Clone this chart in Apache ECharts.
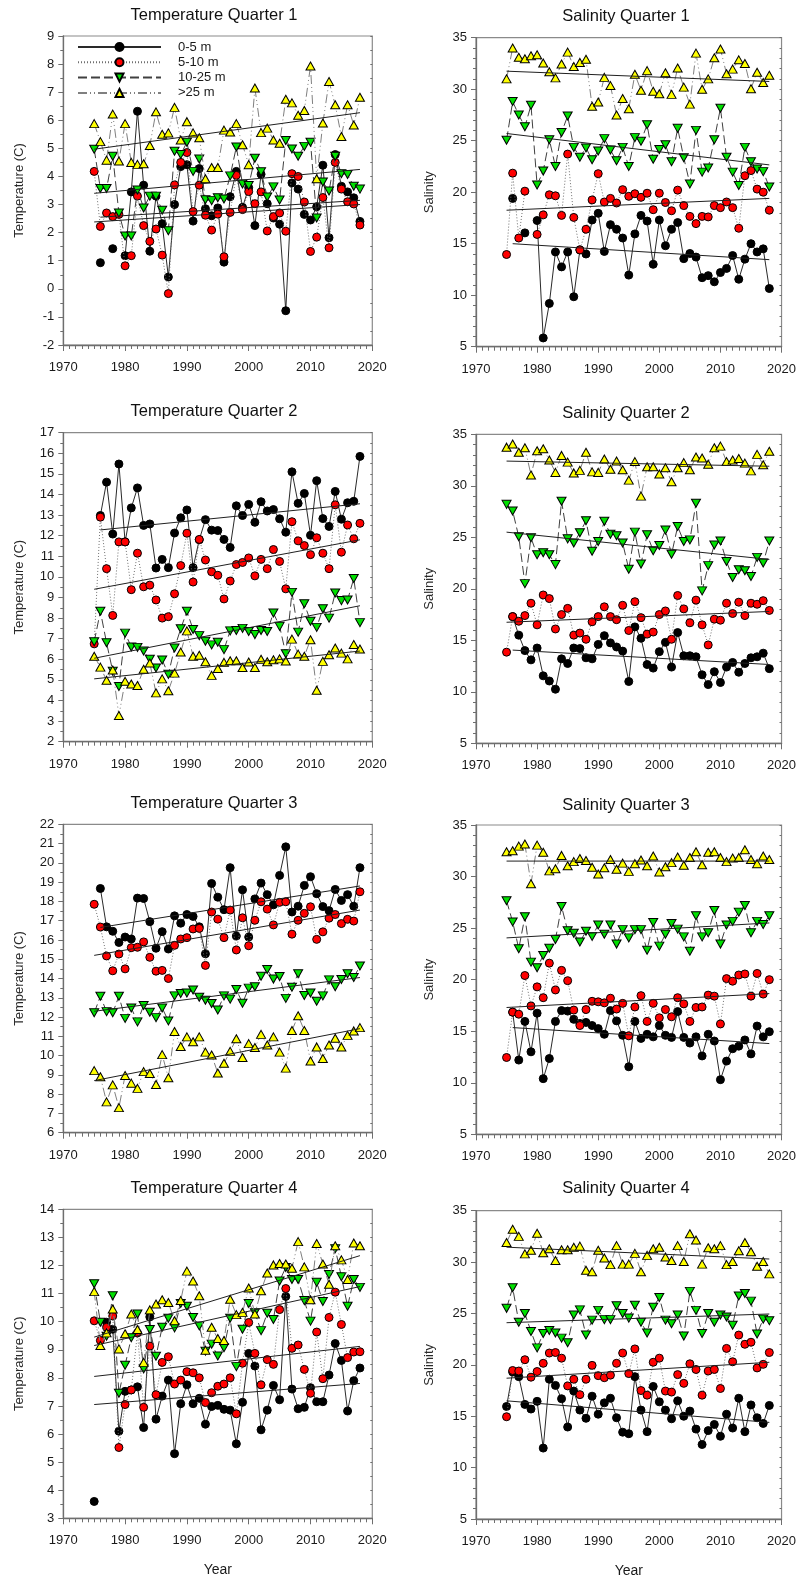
<!DOCTYPE html>
<html>
<head>
<meta charset="utf-8">
<script src="https://cdn.jsdelivr.net/npm/echarts@6/dist/echarts.min.js"></script>
<style>
html,body{margin:0;padding:0;background:#fff;}
#chart{width:799px;height:1579px;}
</style>
</head>
<body>
<div id="chart"></div>
<script>
// ---------------- DATA ----------------
const years = [1975,1976,1977,1978,1979,1980,1981,1982,1983,1984,1985,1986,1987,1988,1989,1990,1991,1992,1993,1994,1995,1996,1997,1998,1999,2000,2001,2002,2003,2004,2005,2006,2007,2008,2009,2010,2011,2012,2013,2014,2015,2016,2017,2018];
const seriesNames = ['0-5 m','5-10 m','10-25 m','>25 m'];
const xTicks = [1970,1980,1990,2000,2010,2020];

// Temperature Quarter 1
const T1_0_5  = [null,0.93,null,1.43,null,1.18,3.45,6.32,3.69,1.34,3.3,2.32,0.42,3.0,4.35,4.42,2.41,4.28,2.85,2.6,2.88,0.95,3.28,4.18,2.9,3.6,2.25,4.08,3.03,2.52,2.3,-0.78,3.77,3.55,2.65,2.45,2.92,4.4,1.82,4.78,3.65,3.45,3.24,2.4];
const T1_5_10 = [4.18,2.22,2.7,2.57,2.65,0.82,1.18,3.3,2.25,1.69,2.13,1.2,-0.17,3.7,4.5,4.85,2.75,3.69,2.62,2.09,2.66,1.14,2.72,4.04,2.82,3.46,3.03,3.45,2.06,2.57,2.7,2.05,4.1,4.0,3.09,1.33,1.84,3.25,1.46,4.5,3.55,3.1,3.02,2.27];
const T1_10_25= [4.97,3.57,3.57,4.72,2.7,1.88,1.88,3.52,2.88,3.3,3.3,2.8,2.07,4.9,4.78,5.22,4.18,4.62,3.17,3.14,3.24,3.2,4.02,5.05,3.73,3.68,4.65,4.17,3.27,3.63,3.16,5.28,4.98,4.72,5.07,5.22,2.52,3.8,3.48,4.72,4.1,4.07,3.65,3.55];
const T1_gt25 = [5.88,5.24,4.58,6.22,4.55,5.88,4.5,4.43,4.45,5.1,6.3,5.5,5.55,6.46,5.3,5.95,5.55,5.38,3.92,4.32,4.32,5.65,5.58,5.88,5.13,4.42,7.15,5.56,5.72,5.3,5.18,6.75,6.62,6.18,6.35,7.93,3.92,5.9,7.38,6.55,5.42,6.55,5.83,6.82];
const T1_trend = [[1976,2.55,2018,3.15],[1975,2.38,2018,3.0],[1975,3.4,2018,4.25],[1975,4.97,2018,6.27]];

// Salinity Quarter 1
const S1_0_5  = [null,19.4,null,16.05,null,17.25,5.85,9.2,14.2,12.75,14.2,9.85,14.4,14.0,17.3,17.95,14.25,16.85,16.4,15.55,11.95,15.95,17.75,17.2,13.0,17.3,14.8,16.4,17.05,13.55,14.05,13.7,11.7,11.9,11.3,12.2,12.6,13.85,11.55,13.5,15.0,14.2,14.5,10.65];
const S1_5_10 = [13.95,21.85,15.55,20.1,null,15.9,17.8,19.75,19.65,17.75,23.7,17.55,14.4,16.4,19.25,21.8,19.05,19.4,18.95,20.25,19.6,19.85,19.5,19.9,18.3,19.9,19.0,18.2,20.2,18.7,17.65,16.95,17.65,17.6,18.7,18.5,19.05,18.5,16.5,21.6,22.1,20.3,20.0,18.25];
const S1_10_25= [25.05,28.8,27.5,26.35,28.45,20.7,22.05,25.1,22.5,25.8,27.4,24.35,23.4,24.3,23.15,24.0,25.2,24.1,23.05,24.35,22.5,25.3,24.95,26.55,23.2,24.15,24.6,22.95,26.2,23.35,20.8,26.0,21.95,22.35,25.1,28.15,23.4,21.95,20.65,24.35,22.95,22.25,22.0,20.5];
const S1_gt25 = [31.0,34.0,33.1,32.95,33.25,33.35,32.55,31.7,31.1,32.45,33.6,32.2,32.6,32.9,28.35,28.75,31.15,30.35,27.5,29.1,28.1,31.45,29.9,31.8,29.8,29.55,31.6,29.5,32.05,30.2,28.55,33.5,30.0,31.0,33.05,33.9,31.5,31.95,32.85,32.5,30.05,31.65,30.65,31.35];
const S1_trend = [[1976,15.0,2018,13.45],[1975,18.25,2018,19.4],[1975,25.7,2018,22.65],[1975,31.75,2018,30.75]];

// Temperature Quarter 2
const T2_0_5  = [null,12.98,14.6,12.08,15.48,11.7,13.35,14.32,12.5,12.57,10.43,10.85,10.45,12.13,12.87,13.25,10.45,11.8,12.78,12.27,12.25,11.82,11.43,13.45,12.98,13.52,12.65,13.65,13.2,13.27,12.82,12.17,15.1,13.57,14.05,12.02,14.67,12.83,12.45,14.15,12.8,13.6,13.67,15.85];
const T2_5_10 = [6.75,12.9,10.4,8.13,11.7,11.7,9.38,11.15,9.52,9.6,8.88,8.0,8.07,9.18,10.55,12.12,9.75,11.82,10.82,10.25,10.08,8.93,9.8,10.6,10.7,10.92,10.05,10.85,10.4,11.33,10.75,9.42,12.68,11.75,11.52,11.08,11.9,11.15,10.4,13.5,11.2,12.52,11.85,12.6];
const T2_10_25= [6.85,8.33,6.8,5.42,4.68,7.27,6.6,6.58,6.4,6.0,5.58,5.97,5.27,6.55,7.48,8.33,7.45,7.15,6.88,6.7,6.83,6.47,7.38,7.4,7.5,7.35,7.2,7.4,7.35,8.25,7.6,6.27,9.25,7.32,8.7,7.85,7.55,8.45,8.0,9.22,8.85,8.88,9.92,7.78];
const T2_gt25 = [6.15,5.62,4.98,5.48,3.27,4.93,4.8,4.73,5.52,5.82,4.37,5.05,4.47,5.33,6.35,7.38,6.15,6.2,5.88,5.22,5.55,5.85,5.93,5.93,5.6,5.87,5.6,6.0,5.88,5.98,6.02,5.92,6.98,6.25,6.15,6.95,4.5,5.9,6.22,6.55,6.3,6.02,6.72,6.5];
const T2_trend = [[1976,12.28,2018,13.55],[1975,9.4,2018,11.8],[1975,6.05,2018,8.6],[1975,5.05,2018,6.4]];

// Salinity Quarter 2
const S2_0_5  = [null,17.3,15.5,14.0,13.1,14.25,11.55,11.05,10.25,13.2,12.75,14.25,14.2,13.3,13.2,14.6,15.45,14.75,14.35,13.95,11.0,16.3,15.2,12.65,12.3,13.9,14.8,12.4,15.75,13.5,13.5,13.4,11.65,10.7,11.95,10.9,12.4,12.85,11.9,12.75,13.3,13.4,13.75,12.25];
const S2_5_10 = [13.85,17.3,16.85,17.4,18.6,16.5,19.4,19.05,16.1,17.5,18.1,15.5,15.7,15.1,16.8,17.3,18.25,17.3,17.0,18.4,15.95,18.75,17.2,15.6,15.8,17.5,17.85,15.1,19.35,18.05,16.7,18.9,16.5,14.55,17.05,16.95,18.6,17.6,18.7,17.4,18.6,18.5,18.85,17.9];
const S2_10_25= [28.2,27.55,25.05,20.5,24.95,23.3,23.5,23.3,22.35,28.5,24.85,24.45,25.45,26.6,23.65,24.6,26.55,25.3,25.15,24.45,21.9,25.5,22.4,25.25,23.7,24.2,25.7,23.35,26.05,24.6,24.75,28.3,19.8,22.25,24.25,24.65,22.65,21.1,21.85,21.75,21.2,23.05,22.5,24.65];
const S2_gt25 = [33.75,34.05,33.25,33.7,31.05,33.4,33.6,32.5,31.3,32.95,32.3,31.25,31.5,33.25,31.35,31.3,32.6,31.6,32.4,31.55,30.55,32.35,29.0,31.85,31.85,31.15,31.75,30.4,31.75,32.25,31.55,32.8,32.7,32.1,33.7,33.85,32.35,32.5,32.65,32.2,31.45,33.05,32.05,33.35];
const S2_trend = [[1976,14.05,2018,12.65],[1975,16.75,2018,17.8],[1975,25.5,2018,22.85],[1975,32.4,2018,31.9]];

// Temperature Quarter 3
const T3_0_5  = [null,18.67,16.68,16.45,15.87,16.15,16.05,18.17,18.15,16.95,15.57,16.43,15.53,17.25,16.87,17.32,17.22,16.68,15.28,18.93,18.22,17.57,19.75,16.2,18.6,16.15,18.13,18.95,18.35,17.82,19.35,20.83,17.45,17.75,18.83,19.28,18.4,17.73,17.52,18.62,18.05,18.35,17.75,19.75];
const T3_5_10 = [17.85,16.67,15.17,14.4,15.27,14.5,15.6,15.62,15.9,15.1,14.38,14.42,14.0,15.72,16.05,16.12,16.57,16.6,14.68,17.45,17.08,16.12,17.55,15.48,17.15,15.7,17.02,17.98,17.6,16.78,17.95,17.98,16.3,17.02,17.38,17.72,16.03,16.42,17.13,17.32,16.85,17.07,16.98,18.5];
const T3_10_25= [12.22,13.08,12.28,12.22,13.08,11.93,12.47,11.75,12.6,12.25,11.97,12.47,11.8,13.1,13.22,13.25,13.4,13.03,12.87,12.7,12.37,13.1,12.93,13.43,12.72,13.5,13.57,14.12,14.47,13.97,14.1,12.97,13.55,14.25,13.12,13.25,12.82,13.1,13.93,13.57,13.95,14.25,14.05,14.65];
const T3_gt25 = [9.22,8.9,7.6,8.48,7.3,8.97,8.57,8.3,9.17,9.07,8.5,10.05,8.85,11.25,10.47,10.97,10.72,10.97,10.18,10.03,9.1,9.6,10.22,10.87,9.9,10.62,10.42,11.1,10.55,10.97,10.18,9.35,11.3,12.07,11.3,9.72,10.45,9.85,10.55,10.9,10.45,11.05,11.28,11.45];
const T3_trend = [[1976,16.65,2018,18.8],[1975,15.2,2018,17.55],[1975,12.3,2018,14.05],[1975,8.7,2018,11.4]];

// Salinity Quarter 3
const S3_0_5  = [null,16.85,12.2,15.95,13.0,16.75,10.4,12.35,15.95,17.0,16.95,16.15,15.75,15.85,15.55,15.25,14.7,17.0,16.0,14.6,11.55,15.95,14.3,14.7,14.45,15.55,14.6,14.4,16.9,14.4,13.85,14.45,12.6,14.7,14.05,10.3,12.1,13.3,13.55,14.15,12.8,15.5,14.45,14.95];
const S3_5_10 = [12.45,16.85,16.65,20.4,17.45,19.3,18.25,21.6,19.0,20.9,19.9,17.05,15.55,17.1,17.9,17.85,17.75,18.2,17.15,17.7,14.55,17.35,18.45,15.95,17.7,16.3,17.1,16.4,18.25,17.65,15.95,17.3,17.35,18.5,18.4,15.7,20.1,19.85,20.45,20.55,18.4,20.6,18.6,20.0];
const S3_10_25= [27.65,25.6,23.0,26.1,21.7,21.15,22.35,23.05,23.9,27.1,24.75,24.5,23.65,24.7,24.2,25.3,24.4,25.3,23.45,24.85,24.05,24.85,24.85,22.85,25.55,23.25,24.4,25.45,24.9,24.15,22.75,26.2,24.15,24.55,26.7,23.45,25.3,25.65,26.55,27.2,24.55,25.65,25.35,26.2];
const S3_gt25 = [32.4,32.5,32.95,33.15,29.3,33.05,32.35,30.55,30.75,32.05,31.05,31.45,31.75,31.55,30.9,30.25,30.85,31.65,30.7,31.3,30.5,31.25,31.6,31.05,32.0,30.45,30.95,31.35,31.9,31.1,31.85,32.4,31.15,32.35,32.4,31.85,31.45,31.8,31.85,32.6,31.65,31.25,32.0,31.65];
const S3_trend = [[1976,15.35,2018,13.8],[1975,17.3,2018,18.65],[1975,24.05,2018,25.5],[1975,31.5,2018,31.5]];

// Temperature Quarter 4
const T4_0_5  = [3.6,null,9.98,9.73,6.1,7.52,7.57,7.68,6.23,10.17,6.53,7.35,7.92,5.3,7.08,7.75,7.08,7.27,6.35,6.98,7.02,6.88,6.85,5.65,7.13,8.87,8.42,6.15,6.85,7.73,7.22,10.9,7.6,6.9,6.95,7.65,7.15,7.15,8.1,9.22,8.62,6.82,7.9,8.35];
const T4_5_10 = [10.03,9.33,9.8,10.2,5.52,7.05,7.57,9.6,6.95,9.13,7.4,8.55,8.75,7.78,7.92,8.22,8.18,8.0,7.12,7.47,7.7,7.78,8.0,6.72,8.52,9.97,8.87,7.75,8.65,8.48,10.43,11.18,9.05,9.17,8.3,7.45,9.63,7.97,10.15,11.05,9.9,8.72,8.92,8.93];
const T4_10_25= [11.35,9.98,9.48,10.92,7.45,8.45,9.43,10.27,8.32,9.72,8.77,9.8,10.12,9.78,10.65,10.55,10.15,9.85,8.95,9.2,8.78,9.07,10.12,8.4,9.73,10.65,10.32,9.68,10.3,10.08,11.45,11.93,11.5,11.5,10.75,10.02,11.4,10.72,11.68,12.6,11.6,10.55,11.5,11.22];
const T4_gt25 = [11.07,9.15,9.6,10.45,9.03,9.57,10.27,9.72,8.55,10.42,10.63,10.78,10.68,10.03,10.75,11.8,11.45,10.92,8.98,9.8,9.4,9.33,10.8,10.25,10.33,11.2,10.27,11.1,11.73,12.02,12.07,12.05,11.9,12.85,11.95,10.78,12.78,12.05,11.33,12.7,12.2,11.5,12.8,12.7];
const T4_trend = [[1975,7.05,2018,7.8],[1975,8.05,2018,9.12],[1975,9.15,2018,11.25],[1975,9.45,2018,12.35]];

// Salinity Quarter 4
const S4_0_5  = [15.95,19.3,18.85,16.15,15.7,16.45,11.9,18.6,18.0,16.7,13.95,17.45,15.6,14.8,16.95,15.2,16.3,16.75,14.85,13.45,13.3,18.85,15.6,13.5,17.9,16.4,15.6,14.75,16.5,15.0,15.5,13.75,12.25,13.6,14.2,13.05,15.2,13.85,16.75,13.5,16.1,14.85,14.3,16.05];
const S4_5_10 = [14.95,19.45,19.4,20.5,18.8,19.35,20.15,21.15,21.2,20.65,17.95,18.6,17.1,18.6,19.95,18.95,18.75,19.0,20.15,21.15,19.15,21.55,17.5,17.05,20.25,20.65,17.45,17.35,19.05,18.2,20.1,19.55,17.05,19.4,19.55,17.7,21.6,20.3,22.9,22.0,22.2,19.7,20.05,21.2];
const S4_10_25= [25.5,27.5,24.15,25.0,23.25,21.65,23.05,23.35,23.1,22.6,22.15,24.85,25.35,22.9,24.35,25.3,24.4,24.4,25.75,25.0,24.55,25.8,24.15,23.1,25.6,26.55,24.35,24.0,24.85,22.8,27.15,25.3,23.05,25.0,24.15,24.85,24.65,23.85,26.7,26.95,26.2,23.0,24.45,24.3];
const S4_gt25 = [31.9,33.2,32.5,30.8,31.15,32.8,30.9,31.3,30.15,31.2,31.2,31.45,31.55,29.2,29.05,31.15,30.4,29.75,31.6,29.8,29.8,30.85,29.05,30.65,31.3,31.45,30.5,30.15,31.6,30.05,32.75,32.15,29.8,31.4,31.3,31.6,29.75,30.05,31.1,31.9,31.0,29.6,30.05,28.85];
const S4_trend = [[1975,16.5,2018,14.4],[1975,18.7,2018,20.25],[1975,24.1,2018,24.95],[1975,31.45,2018,30.3]];

// ---------------- LAYOUT / STYLE ----------------
const FONT = '"Liberation Sans", Arial, sans-serif';
const panels = [
  {title:'Temperature Quarter 1', yName:'Temperature (C)', min:-2, max:9,  interval:1, minor:2, data:[T1_0_5,T1_5_10,T1_10_25,T1_gt25], trend:T1_trend, left:63.3, top:36,    width:309, height:309, tx:214, ty:15},
  {title:'Salinity Quarter 1',    yName:'Salinity',        min:5,  max:35, interval:5, minor:5, data:[S1_0_5,S1_5_10,S1_10_25,S1_gt25], trend:S1_trend, left:476,  top:37.7,  width:309, height:309, tx:626, ty:16.7},
  {title:'Temperature Quarter 2', yName:'Temperature (C)', min:2,  max:17, interval:1, minor:2, data:[T2_0_5,T2_5_10,T2_10_25,T2_gt25], trend:T2_trend, left:63.3, top:432.7, width:309, height:309, tx:214, ty:411.7},
  {title:'Salinity Quarter 2',    yName:'Salinity',        min:5,  max:35, interval:5, minor:5, data:[S2_0_5,S2_5_10,S2_10_25,S2_gt25], trend:S2_trend, left:476,  top:434.3, width:309, height:309, tx:626, ty:413.3},
  {title:'Temperature Quarter 3', yName:'Temperature (C)', min:6,  max:22, interval:1, minor:2, data:[T3_0_5,T3_5_10,T3_10_25,T3_gt25], trend:T3_trend, left:63.3, top:824.3, width:309, height:308.4, tx:214, ty:803},
  {title:'Salinity Quarter 3',    yName:'Salinity',        min:5,  max:35, interval:5, minor:5, data:[S3_0_5,S3_5_10,S3_10_25,S3_gt25], trend:S3_trend, left:476,  top:825,   width:309, height:309.3, tx:626, ty:805},
  {title:'Temperature Quarter 4', yName:'Temperature (C)', min:3,  max:14, interval:1, minor:2, data:[T4_0_5,T4_5_10,T4_10_25,T4_gt25], trend:T4_trend, left:63.3, top:1209.3,width:309, height:309, tx:214, ty:1188.3, xName:'Year'},
  {title:'Salinity Quarter 4',    yName:'Salinity',        min:5,  max:35, interval:5, minor:5, data:[S4_0_5,S4_5_10,S4_10_25,S4_gt25], trend:S4_trend, left:476,  top:1210.7,width:309, height:309.3, tx:626, ty:1188.3, xName:'Year'}
];

const looks = [
  {symbol:'circle', size:8, rotate:0, fill:'#000000', line:{color:'#2a2a2a', type:'solid', width:1}},
  {symbol:'circle', size:8, rotate:0, fill:'#ff0000', line:{color:'#707070', type:[1,2], width:1}},
  {symbol:'triangle', size:[9,8], rotate:180, fill:'#00e000', line:{color:'#404040', type:[9,4], width:1}},
  {symbol:'triangle', size:[9,8], rotate:0, fill:'#ffff00', line:{color:'#808080', type:[9,3,1,3,1,3], width:1}}
];

const axisColor = '#6e6e6e';
const grids = [], xAxes = [], yAxes = [], series = [], graphics = [];

panels.forEach((p, gi) => {
  grids.push({left:p.left, top:p.top, width:p.width, height:p.height, show:true, borderColor:'#8a8a8a', borderWidth:1.2, backgroundColor:'transparent', containLabel:false});
  xAxes.push({
    gridIndex:gi, type:'value', min:xTicks[0], max:xTicks[xTicks.length-1], interval:10,
    axisLine:{show:true, onZero:false, lineStyle:{color:axisColor, width:1.3}},
    axisTick:{show:true, length:6, lineStyle:{color:axisColor, width:1}},
    minorTick:{show:true, splitNumber:10, length:4, lineStyle:{color:axisColor, width:1}},
    splitLine:{show:false}, minorSplitLine:{show:false},
    axisLabel:{fontSize:13, color:'#1a1a1a', margin:16, fontFamily:FONT, formatter: v => String(v)},
    name:p.xName || '', nameLocation:'middle', nameGap:45,
    nameTextStyle:{fontSize:14, color:'#1a1a1a', fontFamily:FONT}
  });
  yAxes.push({
    gridIndex:gi, type:'value', min:p.min, max:p.max, interval:p.interval, position:'left',
    axisLine:{show:true, onZero:false, lineStyle:{color:axisColor, width:1.3}},
    axisTick:{show:true, length:5, lineStyle:{color:axisColor, width:1}},
    minorTick:{show:true, splitNumber:p.minor, length:3, lineStyle:{color:axisColor, width:1}},
    splitLine:{show:false}, minorSplitLine:{show:false},
    axisLabel:{fontSize:13, color:'#1a1a1a', margin:9, fontFamily:FONT, formatter: v => String(v)},
    name:p.yName, nameLocation:'middle', nameRotate:90,
    nameGap: gi % 2 === 0 ? 37.5 : 40.5,
    nameTextStyle:{fontSize:13, color:'#2a2a2a', fontFamily:FONT}
  });
  yAxes.push({
    gridIndex:gi, type:'value', min:p.min, max:p.max, interval:p.interval, position:'right',
    axisLine:{show:false},
    axisTick:{show:true, inside:true, length:2, lineStyle:{color:axisColor}},
    minorTick:{show:true, splitNumber:p.minor, length:2, lineStyle:{color:axisColor}},
    splitLine:{show:false}, axisLabel:{show:false}
  });
  const yIdx = gi * 2;
  p.data.forEach((vals, si) => {
    const lk = looks[si];
    series.push({
      name: seriesNames[si], type:'line', xAxisIndex:gi, yAxisIndex:yIdx,
      data: years.map((yr, k) => [yr, vals[k] == null ? NaN : vals[k]]),
      symbol: lk.symbol, symbolSize: lk.size, symbolRotate: lk.rotate,
      showSymbol:true, connectNulls:false, animation:false,
      lineStyle: lk.line,
      itemStyle: {color: lk.fill, borderColor:'#000', borderWidth:1, opacity:1},
      z: 3 + si
    });
  });
  p.trend.forEach((t) => {
    series.push({
      type:'line', xAxisIndex:gi, yAxisIndex:yIdx,
      data:[[t[0], t[1]], [t[2], t[3]]],
      symbol:'none', animation:false, silent:true,
      lineStyle:{color:'#202020', width:1}, z:8
    });
  });
  graphics.push({type:'text', x:p.tx, y:p.ty, style:{text:p.title, fontSize:16.5, fontFamily:FONT, fill:'#111', align:'center', verticalAlign:'middle'}});
});

const chart = echarts.init(document.getElementById('chart'), null, {renderer:'canvas'});
chart.setOption({
  backgroundColor:'#ffffff',
  animation:false,
  grid: grids, xAxis: xAxes, yAxis: yAxes, series: series,
  graphic: graphics,
  legend: {
    data: seriesNames, orient:'vertical', left:72, top:35.5,
    itemWidth:83, itemHeight:10, itemGap:2.3,
    textStyle:{fontSize:13, color:'#1a1a1a', fontFamily:FONT, padding:[0,0,0,12]},
    selectedMode:false
  }
});
</script>
</body>
</html>
